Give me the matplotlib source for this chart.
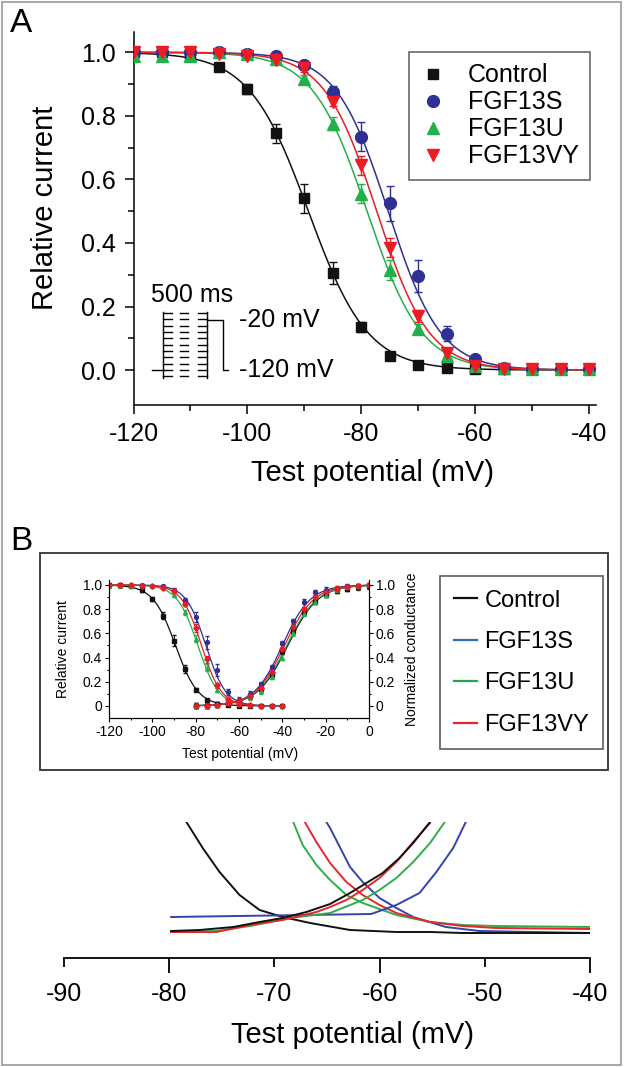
import matplotlib
matplotlib.use("Agg")
import matplotlib.pyplot as plt
import numpy as np
from matplotlib.patches import Rectangle
from matplotlib.lines import Line2D

plt.rcParams["font.family"] = ["Liberation Sans", "DejaVu Sans"]
plt.rcParams["axes.unicode_minus"] = False

# --- data --------------------------------------------------------------
groups = ["Control", "FGF13S", "FGF13U", "FGF13VY"]
colors = ["#111111", "#2e3192", "#22b04b", "#ec1c24"]
markers = ["s", "o", "^", "v"]

# steady-state inactivation (A and B inset)
v_inact = [-120, -115, -110, -105, -100, -95, -90, -85, -80, -75, -70, -65, -60, -55, -50, -45, -40]
inact_ctrl = [1.00, 1.00, 0.99, 0.955, 0.885, 0.745, 0.54, 0.305, 0.135, 0.045, 0.015, 0.005, 0.003, 0.002, 0.002, 0.002, 0.002]
inact_s = [1.00, 1.00, 1.00, 1.00, 0.995, 0.99, 0.96, 0.875, 0.735, 0.525, 0.295, 0.115, 0.035, 0.008, 0.003, 0.003, 0.003]
inact_u = [0.99, 0.99, 0.99, 1.00, 0.995, 0.98, 0.915, 0.775, 0.555, 0.315, 0.13, 0.045, 0.012, 0.005, 0.003, 0.003, 0.003]
inact_vy = [1.00, 1.00, 1.00, 0.995, 0.99, 0.975, 0.95, 0.845, 0.645, 0.385, 0.17, 0.055, 0.012, 0.004, 0.002, 0.002, 0.002]
err_ctrl = [0.005, 0.005, 0.01, 0.01, 0.015, 0.03, 0.045, 0.035, 0.015, 0.008, 0.005, 0.004, 0, 0, 0, 0, 0]
err_s = [0.005, 0.005, 0.005, 0.005, 0.005, 0.008, 0.012, 0.02, 0.045, 0.055, 0.05, 0.025, 0.01, 0.004, 0, 0, 0]
err_u = [0.01, 0.01, 0.01, 0.01, 0.008, 0.01, 0.015, 0.02, 0.03, 0.03, 0.015, 0.01, 0.005, 0, 0, 0, 0]
err_vy = [0.005, 0.005, 0.01, 0.008, 0.01, 0.01, 0.012, 0.015, 0.03, 0.03, 0.02, 0.01, 0.005, 0, 0, 0, 0]
# Boltzmann fit parameters (V1/2, k)
inact_vhalf = [-89.3, -75.3, -79.0, -77.3]
inact_k = [5.2, 4.6, 4.8, 4.6]

# activation (normalized conductance, B inset)
v_act = [-80, -75, -70, -65, -60, -55, -50, -45, -40, -35, -30, -25, -20, -15, -10, -5, 0]
act_ctrl = [0.0, 0.0, 0.01, 0.02, 0.04, 0.08, 0.14, 0.26, 0.45, 0.62, 0.78, 0.86, 0.92, 0.95, 0.97, 0.98, 0.99]
act_s = [0.0, 0.0, 0.01, 0.03, 0.05, 0.10, 0.18, 0.32, 0.52, 0.70, 0.86, 0.94, 0.96, 0.97, 0.99, 0.99, 1.0]
act_u = [0.0, 0.0, 0.01, 0.02, 0.03, 0.07, 0.12, 0.24, 0.40, 0.60, 0.76, 0.86, 0.92, 0.96, 0.98, 0.99, 1.0]
act_vy = [0.0, 0.0, 0.01, 0.02, 0.04, 0.08, 0.15, 0.28, 0.47, 0.65, 0.80, 0.90, 0.94, 0.97, 0.98, 0.99, 1.0]
act_vhalf = [-37.5, -40.0, -38.0, -39.0]
act_k = [7.0, 6.5, 7.0, 6.8]

# magnified window-current region (B bottom), arbitrary units
win_inact_ctrl_v = [-78.35, -76.8, -75.2, -73.3, -71.4, -69.2, -66.6, -62.8, -58.4, -55.2, -52.1, -40]
win_inact_ctrl_y = [136, 110, 86, 63, 48, 41, 35, 28, 26, 26, 25, 25]
win_inact_s_v = [-65.05, -64.7, -62.8, -61.6, -60.0, -58.4, -56.8, -53.7, -50.5, -40]
win_inact_s_y = [136, 130, 91, 76, 60, 50, 41, 31, 27, 25]
win_inact_u_v = [-68.2, -67.3, -66.0, -64.7, -63.15, -61.6, -58.4, -55.2, -52.1, -48.9, -40]
win_inact_u_y = [136, 113, 93, 78, 63, 55, 43, 36, 33, 32, 31]
win_inact_vy_v = [-67.1, -66.0, -64.7, -63.15, -61.6, -60.0, -58.4, -55.2, -52.1, -48.9, -40]
win_inact_vy_y = [136, 116, 95, 76, 63, 53, 45, 36, 32, 30, 29]
win_act_ctrl_v = [-79.8, -77.1, -73.9, -71.4, -69.2, -66.95, -64.7, -62.8, -61.25, -59.7, -58.1, -56.8, -55.2]
win_act_ctrl_y = [27, 28, 31, 36, 40, 46, 54, 65, 75, 85, 100, 115, 136]
win_act_s_v = [-79.8, -60.8, -58.4, -56.2, -54.6, -53.0, -51.8]
win_act_s_y = [41, 44, 53, 65, 86, 110, 136]
win_act_u_v = [-79.8, -75.5, -72.3, -68.5, -64.7, -61.6, -60.0, -58.4, -56.8, -55.2, -53.8]
win_act_u_y = [26, 27, 32, 40, 45, 58, 68, 80, 96, 115, 136]
win_act_vy_v = [-79.8, -75.5, -72.3, -69.2, -66.0, -64.7, -63.15, -61.6, -60.0, -58.4, -56.8, -55.2]
win_act_vy_y = [26, 26, 33, 38, 46, 51, 58, 68, 80, 96, 116, 135]

inact_y = [inact_ctrl, inact_s, inact_u, inact_vy]
inact_e = [err_ctrl, err_s, err_u, err_vy]
act_y = [act_ctrl, act_s, act_u, act_vy]


def boltz_inact(v, vh, k):
    return 1.0 / (1.0 + np.exp((v - vh) / k))


def boltz_act(v, vh, k):
    return 1.0 / (1.0 + np.exp((vh - v) / k))


W, H = 624, 1067
fig = plt.figure(figsize=(W / 100, H / 100), dpi=100)


def box(l, t, r, b):
    # pixel box of the reference -> figure fraction
    return [l / W, 1 - b / H, (r - l) / W, (b - t) / H]


fig.patches.append(Rectangle((2 / W, 2 / H), 1 - 5 / W, 1 - 4 / H, transform=fig.transFigure,
                             fill=False, ec="#9a9a9a", lw=1.2))

# --- panel A -----------------------------------------------------------
axA = fig.add_axes(box(133.5, 31.7, 596, 405))
vv = np.linspace(-120, -40, 400)
ms = [7.5, 8.5, 9, 9]
for c, m, y, e, vh, k, s in zip(colors, markers, inact_y, inact_e, inact_vhalf, inact_k, ms):
    axA.plot(vv, boltz_inact(vv, vh, k), color=c, lw=1.1, zorder=2)
    axA.errorbar(v_inact, y, yerr=e, fmt=m, color=c, ms=s, mec=c, capsize=3, elinewidth=1,
                 capthick=1, zorder=3)
axA.set_xlim(-120, -38.8)
axA.set_ylim(-0.11, 1.065)
axA.spines[["top", "right"]].set_visible(False)
for sp in axA.spines.values():
    sp.set_linewidth(1.1)
axA.set_xticks([-120, -100, -80, -60, -40])
axA.set_xticks([-110, -90, -70, -50], minor=True)
axA.set_yticks([0.0, 0.2, 0.4, 0.6, 0.8, 1.0])
axA.set_yticks([0.1, 0.3, 0.5, 0.7, 0.9], minor=True)
axA.yaxis.set_major_formatter(matplotlib.ticker.FormatStrFormatter("%.1f"))
axA.tick_params(labelsize=18, length=6.5, width=1.1, direction="out", pad=6)
axA.tick_params(which="minor", length=4, width=1.1)
axA.set_ylabel("Relative current", fontsize=21)
axA.set_xlabel("Test potential (mV)", fontsize=21)
axA.yaxis.set_label_coords(-0.162, 0.529)
axA.xaxis.set_label_coords(0.517, -0.145)

hA = [Line2D([], [], ls="none", marker=m, color=c, ms=s) for c, m, s in zip(colors, markers, ms)]
legA = axA.legend(hA, groups, loc="upper right", bbox_to_anchor=(0.987, 0.9456), fontsize=18,
                  frameon=True, fancybox=False, edgecolor="#444444", handlelength=1.0,
                  handletextpad=0.9, labelspacing=0.12, borderpad=0.45, borderaxespad=0)
legA.get_frame().set_linewidth(1.2)

# voltage protocol sketch
pk = dict(color="black", lw=1.0, clip_on=False)
levels = np.linspace(0.179, -0.019, 11)
axA.plot([-116.8, -114.87], [0, 0], **pk)
axA.plot([-114.87, -114.87], [0.183, -0.025], **pk)
axA.plot([-107.14, -107.14], [0.183, -0.025], **pk)
for lv in levels:
    axA.plot([-114.87, -113.3], [lv, lv], **pk)
    axA.plot([-111.8, -110.4], [lv, lv], **pk)
    axA.plot([-108.7, -107.14], [lv, lv], **pk)
axA.plot([-107.14, -104.33, -104.33, -103.35], [0.159, 0.159, 0.0, 0.0], **pk)
axA.text(-109.8, 0.236, "500 ms", fontsize=18, ha="center", va="center")
axA.text(-101.4, 0.159, "-20 mV", fontsize=18, ha="left", va="center")
axA.text(-101.4, 0.0, "-120 mV", fontsize=18, ha="left", va="center")

fig.text(21 / W, 1 - 24 / H, "A", fontsize=24, ha="center", va="center")
fig.text(21 / W, 1 - 542 / H, "B", fontsize=24, ha="center", va="center")

# --- panel B inset -----------------------------------------------------
fig.patches.append(Rectangle((40 / W, 1 - 770 / H), 568 / W, 217 / H, transform=fig.transFigure,
                             fill=False, ec="#333333", lw=1.3))
axI = fig.add_axes(box(109, 580, 369, 718))
vi = np.linspace(-120, -40, 300)
va = np.linspace(-80, 0, 300)
inset_markers = ["s", "o", "^", "D"]
for c, m, y, e, ya, vh, k, avh, ak in zip(colors, inset_markers, inact_y, inact_e, act_y,
                                          inact_vhalf, inact_k, act_vhalf, act_k):
    axI.plot(vi, boltz_inact(vi, vh, k), color=c, lw=0.9, zorder=2)
    axI.plot(va, boltz_act(va, avh, ak), color=c, lw=0.9, zorder=2)
    axI.errorbar(v_inact, y, yerr=e, fmt=m, color=c, ms=2.8, capsize=1.2, elinewidth=0.7, zorder=3)
    axI.errorbar(v_act, ya, yerr=0.02, fmt=m, color=c, ms=2.8, capsize=1.2, elinewidth=0.7, zorder=3)
axI.set_xlim(-120, 0)
axI.set_ylim(-0.1, 1.041)
axI.spines["top"].set_visible(False)
axI.set_xticks([-120, -100, -80, -60, -40, -20, 0])
axI.set_xticks([-110, -90, -70, -50, -30, -10], minor=True)
yt = [0, 0.2, 0.4, 0.6, 0.8, 1.0]
ytl = ["0", "0.2", "0.4", "0.6", "0.8", "1.0"]
axI.set_yticks(yt, ytl)
axI.set_yticks([0.1, 0.3, 0.5, 0.7, 0.9], minor=True)
axI.tick_params(labelsize=10, length=3, width=0.8, pad=2)
axI.tick_params(which="minor", length=1.6, width=0.8)
axI.set_ylabel("Relative current", fontsize=10)
axI.set_xlabel("Test potential (mV)", fontsize=10)
axI.yaxis.set_label_coords(-0.15, 0.5)
axI.xaxis.set_label_coords(0.504, -0.21)
axR = axI.twinx()
axR.set_ylim(-0.1, 1.041)
axR.spines["top"].set_visible(False)
axR.set_yticks(yt, ytl)
axR.set_yticks([0.1, 0.3, 0.5, 0.7, 0.9], minor=True)
axR.tick_params(labelsize=10, length=3, width=0.8, pad=2)
axR.tick_params(which="minor", length=1.6, width=0.8)
axR.set_ylabel("Normalized conductance", fontsize=10)
axR.yaxis.set_label_coords(1.138, 0.5)

legend_colors = ["#111111", "#2a6ebb", "#22a84a", "#e8262c"]
hB = [Line2D([], [], color=c, lw=1.6) for c in legend_colors]
legB = axR.legend(hB, groups, loc="upper right", bbox_to_anchor=(603 / W, 1 - 576 / H),
                  bbox_transform=fig.transFigure, fontsize=17, frameon=True, fancybox=False,
                  edgecolor="#333333", handlelength=1.0, handletextpad=0.3, labelspacing=0.82,
                  borderpad=0.58, borderaxespad=0)
legB.get_frame().set_linewidth(1.2)

# --- panel B window-current zoom --------------------------------------
axW = fig.add_axes(box(63.8, 822, 590, 958))
zc = ["#111111", "#3344aa", "#2fae47", "#e8262c"]
axW.plot(win_inact_s_v, win_inact_s_y, color=zc[1], lw=1.4)
axW.plot(win_inact_u_v, win_inact_u_y, color=zc[2], lw=1.4)
axW.plot(win_inact_vy_v, win_inact_vy_y, color=zc[3], lw=1.4)
axW.plot(win_inact_ctrl_v, win_inact_ctrl_y, color=zc[0], lw=1.4)
axW.plot(win_act_s_v, win_act_s_y, color=zc[1], lw=1.4)
axW.plot(win_act_u_v, win_act_u_y, color=zc[2], lw=1.4)
axW.plot(win_act_vy_v, win_act_vy_y, color=zc[3], lw=1.4)
axW.plot(win_act_ctrl_v, win_act_ctrl_y, color=zc[0], lw=1.4)
axW.set_xlim(-90, -40)
axW.set_ylim(0, 136)
for s in ["top", "right", "left"]:
    axW.spines[s].set_visible(False)
axW.spines["bottom"].set_linewidth(1.3)
axW.set_yticks([])
axW.set_xticks([-80, -60, -40], ["-80", "-60", "-40"])
axW.set_xticks([-90, -70, -50], ["-90", "-70", "-50"], minor=True)
axW.tick_params(axis="x", which="major", length=10.5, width=1.3, labelsize=18, pad=6.5)
axW.tick_params(axis="x", which="minor", length=6.5, width=1.3, labelsize=18, pad=10.5)
axW.set_xlabel("Test potential (mV)", fontsize=21)
axW.xaxis.set_label_coords(0.549, -0.463)

fig.savefig("out.png", dpi=100)
